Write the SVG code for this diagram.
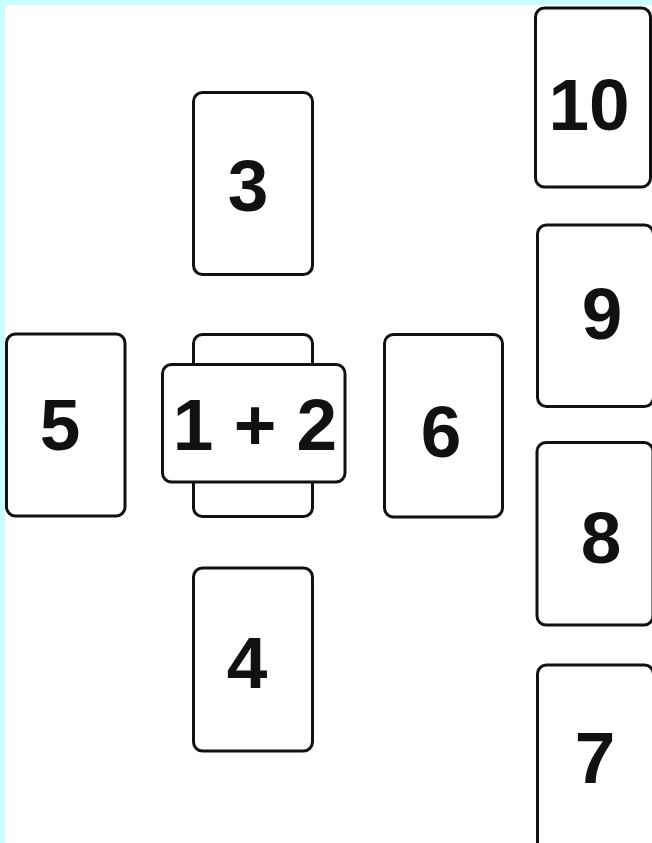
<svg xmlns="http://www.w3.org/2000/svg" width="652" height="843" viewBox="0 0 652 843">
<style>
.card{fill:#fff;stroke:#111;stroke-width:3}
.num{font-family:"Liberation Sans",Arial,sans-serif;font-weight:bold;font-size:73px;fill:#111;text-anchor:middle}
</style>
<rect x="0" y="0" width="652" height="843" fill="#c6ffff"/>
<rect x="5" y="5" width="647" height="838" fill="#fff"/>
<g id="card3"><rect class="card" x="193.5" y="92.5" width="119" height="182" rx="9"/><text class="num" x="248" y="211">3</text></g>
<g id="card5"><rect class="card" x="6.5" y="334" width="118.5" height="182" rx="9"/><text class="num" x="60" y="450">5</text></g>
<g id="card1"><rect class="card" x="193.5" y="334.5" width="119" height="182" rx="9"/></g>
<g id="card2"><rect class="card" x="162.5" y="364.5" width="182.5" height="117.5" rx="9"/><text class="num" x="255" y="450">1 + 2</text></g>
<g id="card6"><rect class="card" x="384.5" y="334.5" width="118" height="182.5" rx="9"/><text class="num" x="441" y="457">6</text></g>
<g id="card4"><rect class="card" x="193.5" y="568" width="119" height="183" rx="9"/><text class="num" x="247" y="688">4</text></g>
<g id="card10"><rect class="card" x="535.5" y="8" width="115" height="179" rx="9"/><text class="num" x="589" y="130">10</text></g>
<g id="card9"><rect class="card" x="537.5" y="225" width="116" height="181.5" rx="9"/><text class="num" x="602" y="339">9</text></g>
<g id="card8"><rect class="card" x="537" y="442.5" width="116" height="182.5" rx="9"/><text class="num" x="601" y="563">8</text></g>
<g id="card7"><rect class="card" x="537.5" y="665" width="116" height="190" rx="9"/><text class="num" x="595" y="783">7</text></g>
<g id="connectors"></g>
</svg>
